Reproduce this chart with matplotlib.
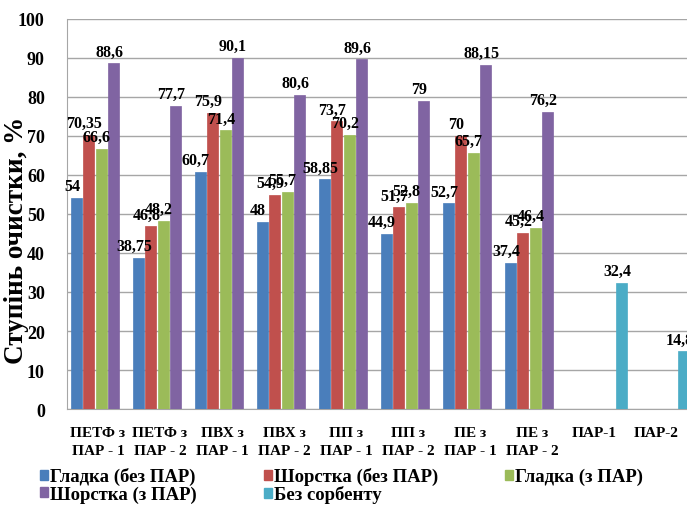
import numpy as np
import matplotlib.pyplot as plt
from matplotlib.patches import Patch

plt.rcParams['font.family'] = ['Liberation Serif', 'DejaVu Serif']

categories = ["ПЕТФ з\nПАР - 1", "ПЕТФ з\nПАР - 2", "ПВХ з\nПАР - 1", "ПВХ з\nПАР - 2",
              "ПП з\nПАР - 1", "ПП з\nПАР - 2", "ПЕ з\nПАР - 1", "ПЕ з\nПАР - 2",
              "ПАР-1", "ПАР-2"]

smooth_no = [54, 38.75, 60.7, 48, 58.85, 44.9, 52.7, 37.4, 0, 0]
rough_no = [70.35, 46.8, 75.9, 54.9, 73.7, 51.7, 70, 45.2, 0, 0]
smooth_par = [66.6, 48.2, 71.4, 55.7, 70.2, 52.8, 65.7, 46.4, 0, 0]
rough_par = [88.6, 77.7, 90.1, 80.6, 89.6, 79, 88.15, 76.2, 0, 0]
no_sorbent = [0, 0, 0, 0, 0, 0, 0, 0, 32.4, 14.8]

series = [
    ("Гладка (без ПАР)", smooth_no, "#4a7ebb"),
    ("Шорстка (без ПАР)", rough_no, "#c0504d"),
    ("Гладка (з ПАР)", smooth_par, "#9bbb59"),
    ("Шорстка (з ПАР)", rough_par, "#8064a2"),
    ("Без сорбенту", no_sorbent, "#4bacc6"),
]

fig = plt.figure(figsize=(6.87, 5.10), dpi=100)
ax = fig.add_axes([0.0975, 0.196, 0.9025, 0.765])

x = np.arange(len(categories))
w = 0.18
for i, (name, vals, col) in enumerate(series):
    pos = x + (i - 2) * 0.2 + 0.05
    ax.bar(pos, vals, width=w, color=col, edgecolor=col, linewidth=0.5, zorder=3)
    for p, v in zip(pos, vals):
        if v > 0:
            ax.text(p - 0.07, v + 1.0, f"{v:g}".replace('.', ','), ha='center', va='bottom',
                    fontsize=11.5, fontweight='bold', zorder=4)

ax.set_xlim(-0.5, 9.5)
ax.set_ylim(0, 100)
ax.set_yticks(range(0, 101, 10))
ax.set_xticks(x)
ax.set_xticklabels(categories, fontsize=11, fontweight='bold', linespacing=1.5)
for t in ax.get_yticklabels():
    t.set_fontsize(13)
    t.set_fontweight('bold')
ax.tick_params(axis='x', length=0, pad=12)
ax.tick_params(axis='y', length=0, pad=16)
ax.grid(axis='y', color='#a6a6a6', linewidth=1, zorder=0)
for s in ['top', 'right']:
    ax.spines[s].set_visible(False)
ax.spines['left'].set_color('#a6a6a6')
ax.spines['bottom'].set_color('#a6a6a6')
ax.set_ylabel("Ступінь очистки, %", fontsize=19.5, fontweight='bold')
ax.yaxis.set_label_coords(-0.062, 0.436)

handles = [Patch(color=c, label=n) for n, _, c in series]
order = [0, 3, 1, 4, 2]
fig.legend([handles[k] for k in order], [series[k][0] for k in order],
           loc='lower left', bbox_to_anchor=(0.05, 0.0), ncol=3, frameon=False,
           prop={'size': 13.5, 'weight': 'bold'}, handlelength=0.45, handleheight=0.45,
           handletextpad=0.1, columnspacing=3.55, labelspacing=0.0, borderaxespad=0.1,
           borderpad=0.2)

fig.savefig("out.png", dpi=100)
